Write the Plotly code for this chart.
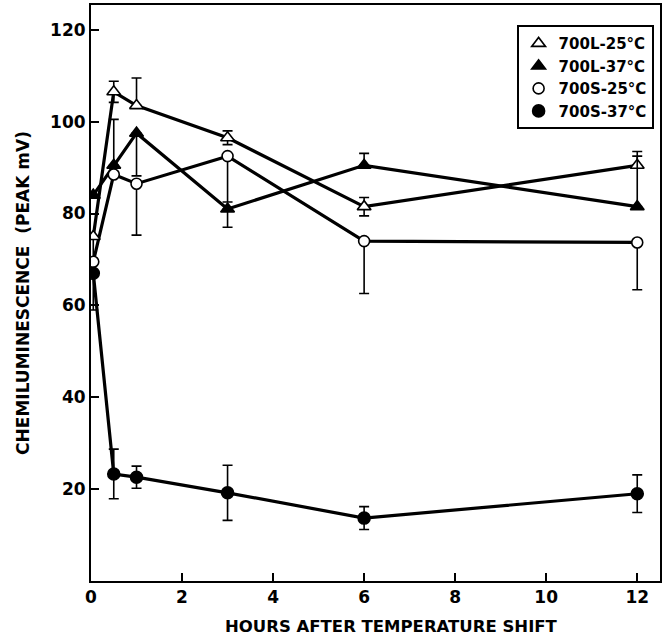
import plotly.graph_objects as go

# ---- data ----
hours = [0.05, 0.5, 1, 3, 6, 12]

l25_name = "700L-25°C"
l25_y = [75, 106.5, 103.5, 96.5, 81.5, 90.5]
l25_plus = [0, 2.3, 6, 1.5, 2, 3]
l25_minus = [16, 2.3, 0, 1.5, 2, 0]

l37_name = "700L-37°C"
l37_y = [84, 90.5, 97.5, 81, 90.5, 81.5]
l37_plus = [0, 10, 0, 0, 2.6, 11]
l37_minus = [0, 0, 9.3, 4, 0, 0]

s25_name = "700S-25°C"
s25_y = [69.5, 88.5, 86.5, 92.5, 74, 73.7]
s25_plus = [0, 0, 0, 0, 0, 0]
s25_minus = [0, 0, 11.2, 10, 11.4, 10.3]

s37_name = "700S-37°C"
s37_y = [67, 23.3, 22.6, 19.2, 13.7, 19]
s37_plus = [0, 5.4, 2.4, 6, 2.5, 4.1]
s37_minus = [0, 5.4, 2.4, 6, 2.5, 4.1]

x_ticks = [0, 2, 4, 6, 8, 10, 12]
y_ticks = [20, 40, 60, 80, 100, 120]

x_title = "HOURS AFTER TEMPERATURE SHIFT"
y_title = "CHEMILUMINESCENCE  (PEAK mV)"

series = [
    (l25_name, l25_y, l25_plus, l25_minus, "triangle-up", "white", 12),
    (l37_name, l37_y, l37_plus, l37_minus, "triangle-up", "black", 12),
    (s25_name, s25_y, s25_plus, s25_minus, "circle", "white", 11),
    (s37_name, s37_y, s37_plus, s37_minus, "circle", "black", 12),
]

FONT = "DejaVu Sans"
fig = go.Figure()

# connecting lines first (below all markers)
for name, y, p, m, sym, fill, size in series:
    fig.add_trace(go.Scatter(
        x=hours, y=y, mode="lines", showlegend=False, hoverinfo="skip",
        line=dict(color="black", width=3.2),
    ))

# markers with error bars
for name, y, p, m, sym, fill, size in series:
    fig.add_trace(go.Scatter(
        x=hours, y=y, mode="markers", name=name,
        marker=dict(symbol=sym, size=size, color=fill,
                    line=dict(color="black", width=1.6)),
        error_y=dict(type="data", symmetric=False, array=p, arrayminus=m,
                     color="black", thickness=1.6, width=5),
    ))

fig.update_layout(
    width=663, height=640,
    margin=dict(l=91, r=1, t=5, b=59),
    paper_bgcolor="white", plot_bgcolor="white",
    font=dict(family=FONT, color="black", size=17),
    showlegend=True,
    legend=dict(
        x=0.748, y=0.965, xanchor="left", yanchor="top",
        bordercolor="black", borderwidth=2, bgcolor="white",
        font=dict(family=FONT, size=15, color="black", weight="bold"),
        tracegroupgap=0, itemwidth=30,
    ),
    xaxis=dict(
        range=[0, 12.5], tickvals=x_ticks, ticktext=[str(v) for v in x_ticks],
        ticks="inside", ticklen=8, tickwidth=2, tickcolor="black",
        showline=True, linecolor="black", linewidth=2, mirror=True,
        showgrid=False, zeroline=False,
        tickfont=dict(family=FONT, size=17, weight="bold"),
    ),
    yaxis=dict(
        range=[0, 125.4], tickvals=y_ticks, ticktext=[str(v) for v in y_ticks],
        ticks="inside", ticklen=8, tickwidth=2, tickcolor="black",
        showline=True, linecolor="black", linewidth=2, mirror=True,
        showgrid=False, zeroline=False,
        tickfont=dict(family=FONT, size=17, weight="bold"),
        title=dict(text=y_title, standoff=16,
                   font=dict(family=FONT, size=17, weight="bold")),
    ),
    annotations=[
        dict(text=x_title, xref="paper", yref="paper", x=0.528, y=0,
             xanchor="center", yanchor="middle", yshift=-45, showarrow=False,
             font=dict(family=FONT, size=16.5, weight="bold", color="black")),
    ],
)

fig.write_html("out.html")
